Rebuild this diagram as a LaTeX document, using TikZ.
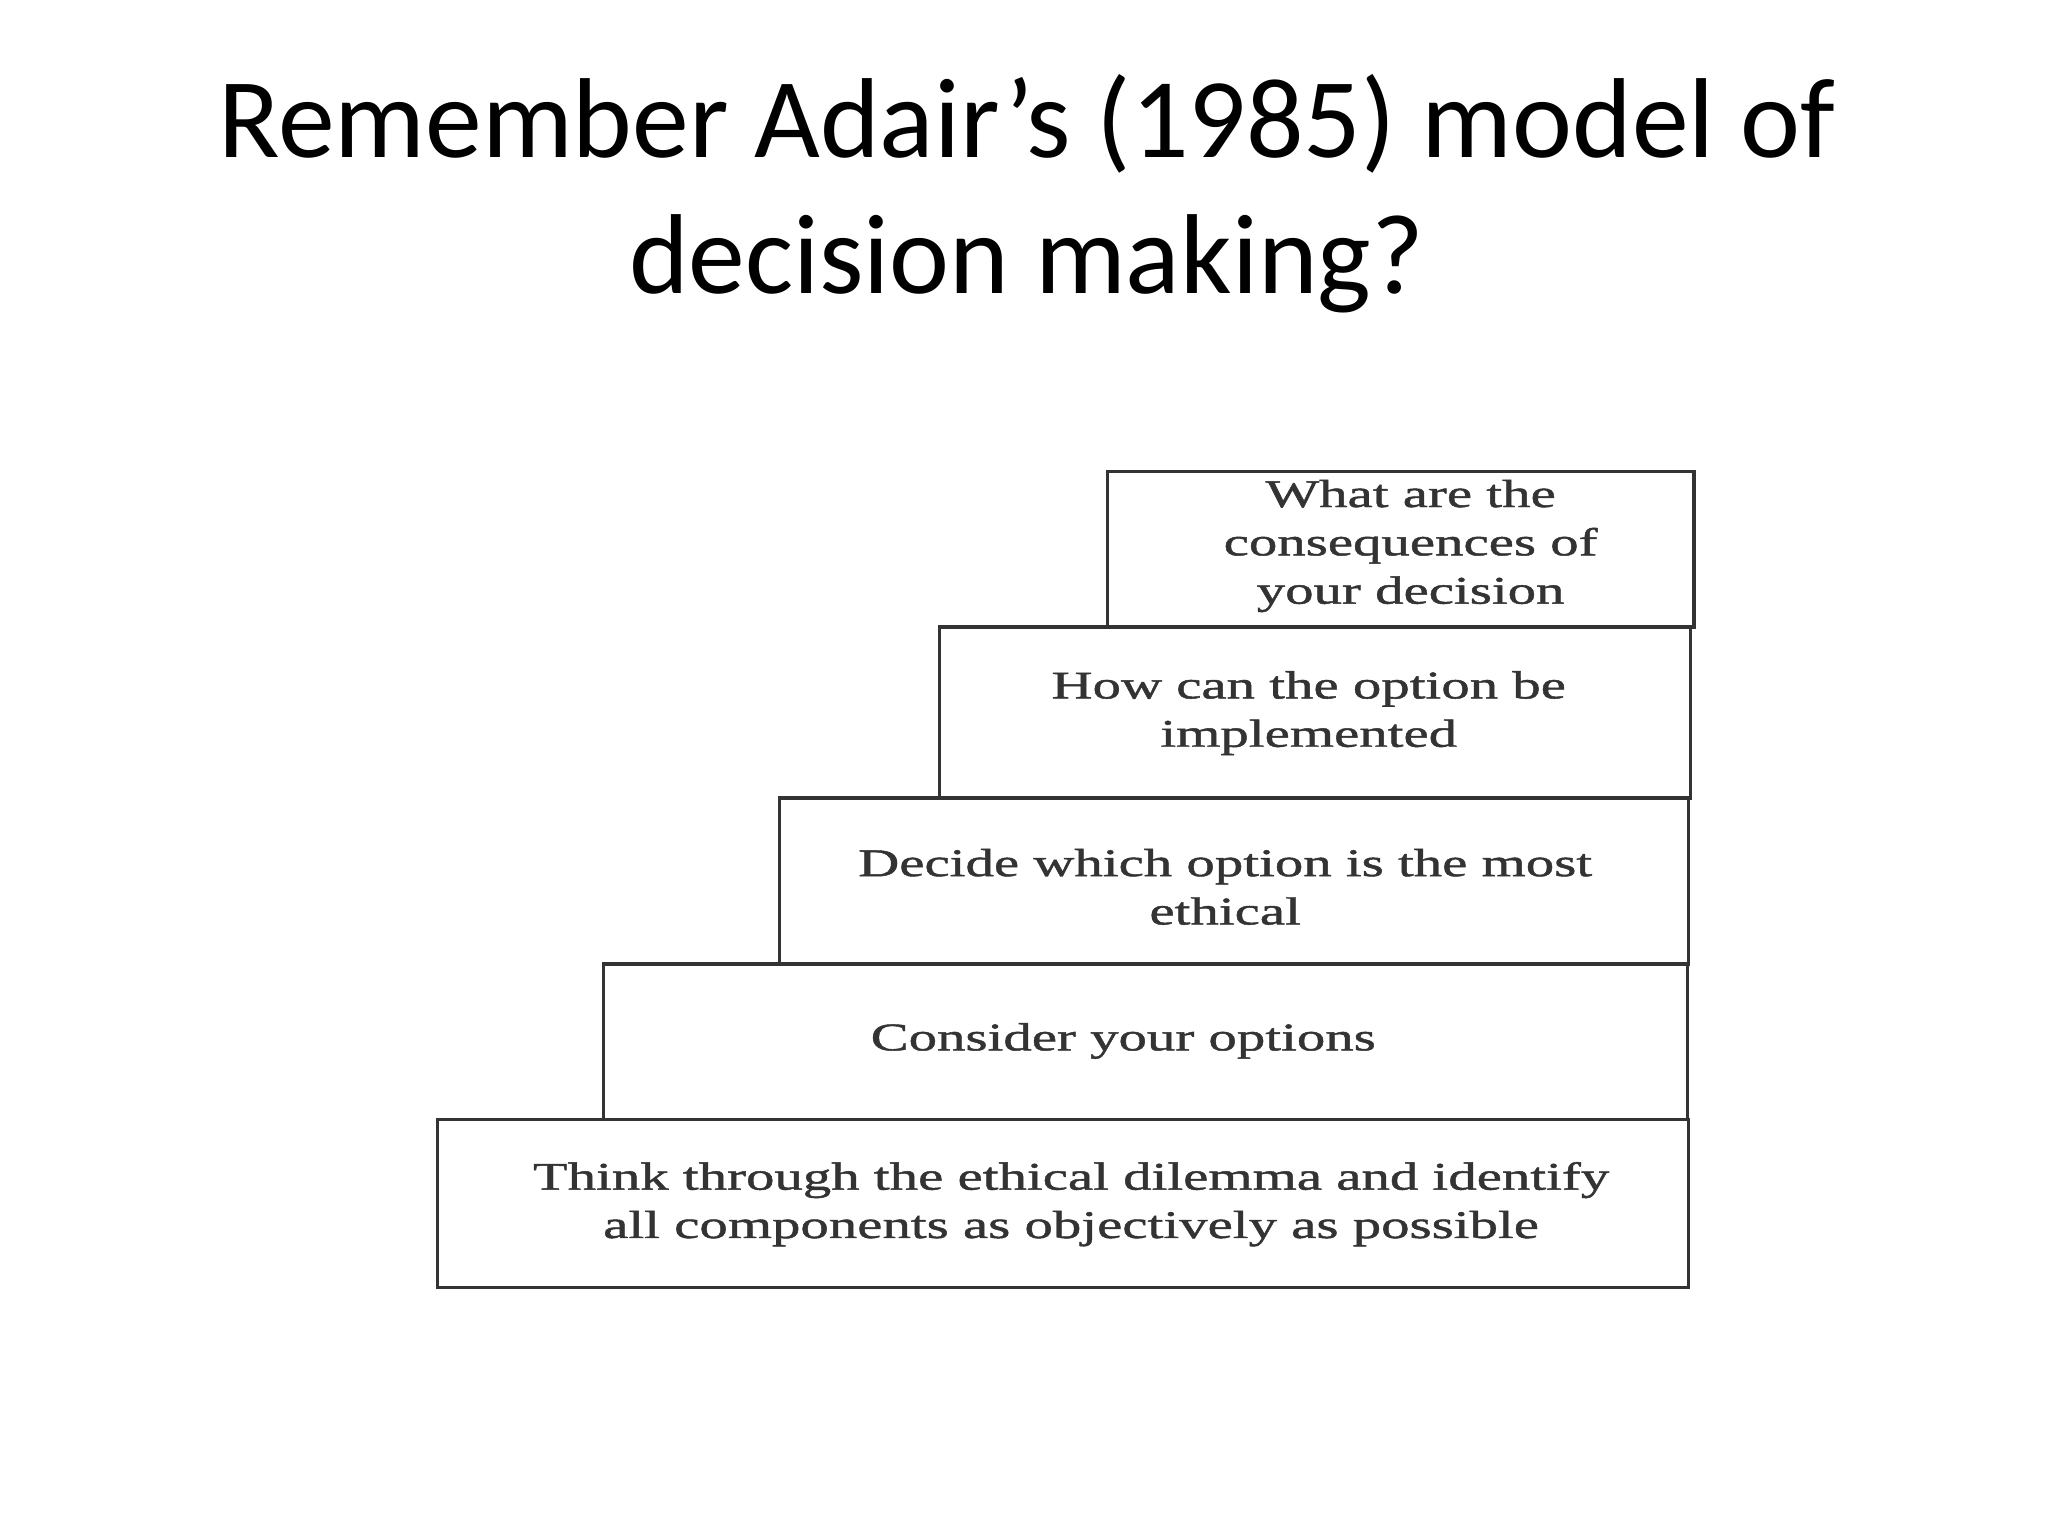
\documentclass[tikz,border=0pt]{standalone}
\usepackage{fontspec}
\setmainfont{Liberation Serif}[FakeStretch=1.45,FakeBold=1.2]
\newfontfamily\titlefont{Carlito}
\begin{document}
\begin{tikzpicture}[x=1pt,y=-1pt,
  stepbox/.style={draw=black!80,line width=2.4pt},
  steptext/.style={align=center,font=\fontsize{30}{37}\selectfont,text=black!80}]
\useasboundingbox[fill=white] (0,0) rectangle (1568,1176);
\node[font=\titlefont\fontsize{87}{104}\selectfont,align=center] (title) at (786,148) {Remember Adair’s (1985) model of\\decision making?};
\draw[stepbox] (848,361) rectangle (1297,480);
\draw[stepbox] (719,480) rectangle (1294,611);
\draw[stepbox] (597,611) rectangle (1293,738);
\draw[stepbox] (462,738) rectangle (1292,857);
\draw[stepbox] (335,857) rectangle (1293,986);
\node[steptext] (t1) at (1080,418) {What are the\\consequences of\\your decision};
\node[steptext] (t2) at (1002,546) {How can the option be\\implemented};
\node[steptext] (t3) at (938,679) {Decide which option is the most\\ethical};
\node[steptext] (t4) at (860,797) {Consider your options};
\node[steptext] (t5) at (820,922) {Think through the ethical dilemma and identify\\all components as objectively as possible};
\end{tikzpicture}
\end{document}
